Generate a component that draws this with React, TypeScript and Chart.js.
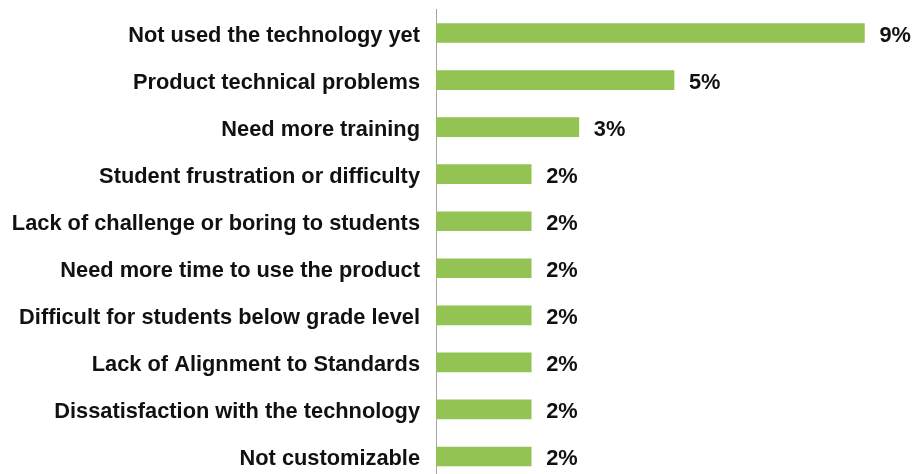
import React, { useEffect, useRef } from "react";
import { Chart, registerables } from "chart.js";

Chart.register(...registerables);

const categories: string[] = [
  "Not used the technology yet",
  "Product technical problems",
  "Need more training",
  "Student frustration or difficulty",
  "Lack of challenge or boring to students",
  "Need more time to use the product",
  "Difficult for students below grade level",
  "Lack of Alignment to Standards",
  "Dissatisfaction with the technology",
  "Not customizable",
];

const values: number[] = [9, 5, 3, 2, 2, 2, 2, 2, 2, 2];
const valueLabels: string[] = ["9%", "5%", "3%", "2%", "2%", "2%", "2%", "2%", "2%", "2%"];

const FONT = '"Liberation Sans", Arial, Helvetica, sans-serif';

const valueLabelPlugin = {
  id: "valueLabels",
  afterDatasetsDraw(chart: any) {
    const ctx = chart.ctx;
    const meta = chart.getDatasetMeta(0);
    ctx.save();
    ctx.font = `bold 21.8px ${FONT}`;
    ctx.fillStyle = "#111111";
    ctx.textAlign = "left";
    ctx.textBaseline = "middle";
    meta.data.forEach((bar: any, i: number) => {
      ctx.fillText(valueLabels[i], bar.x + 15, bar.y + 3);
    });
    ctx.restore();
  },
};

export default function App() {
  const canvasRef = useRef<HTMLCanvasElement | null>(null);

  useEffect(() => {
    document.body.style.margin = "0";
    document.body.style.overflow = "hidden";
    document.documentElement.style.overflow = "hidden";
    const canvas = canvasRef.current;
    if (!canvas) return;
    const chart = new Chart(canvas, {
      type: "bar",
      data: {
        labels: categories,
        datasets: [
          {
            data: values,
            backgroundColor: "#92c353",
            borderWidth: 0,
            barThickness: 19,
          },
        ],
      },
      plugins: [valueLabelPlugin],
      options: {
        indexAxis: "y",
        animation: false,
        responsive: false,
        maintainAspectRatio: false,
        layout: { padding: { top: 9.5, right: 2, left: 0, bottom: 0 } },
        plugins: {
          legend: { display: false },
          tooltip: { enabled: false },
        },
        scales: {
          x: {
            display: false,
            min: 0,
            max: 10,
          },
          y: {
            afterFit: (scale: any) => {
              scale.width = 436;
              scale.paddingTop = 0;
              scale.paddingBottom = 0;
            },
            grid: { display: false, drawTicks: false },
            border: { display: true, color: "#a6a6a6", width: 1 },
            ticks: {
              color: "#111111",
              padding: 16,
              labelOffset: 3,
              font: { family: FONT, size: 21.8, weight: "bold" },
            },
          },
        },
      },
    });
    return () => chart.destroy();
  }, []);

  return (
    <div style={{ width: 914, height: 480 }}>
      <canvas ref={canvasRef} width={914} height={480} style={{ display: "block" }} />
    </div>
  );
}
